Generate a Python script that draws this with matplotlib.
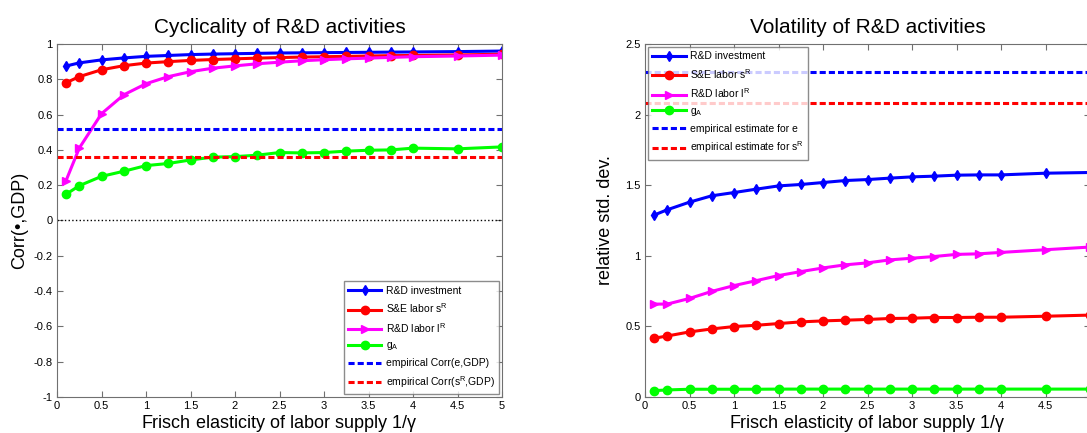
# 研发活动的周期性与波动性
import matplotlib
matplotlib.use("Agg")
import matplotlib.pyplot as plt
from matplotlib.ticker import FuncFormatter

plt.rcParams["font.family"] = ["Liberation Sans", "DejaVu Sans"]
plt.rcParams["mathtext.default"] = "regular"
plt.rcParams["axes.unicode_minus"] = False

# Frisch 弹性取值
frisch = [0.1, 0.25, 0.5, 0.75, 1, 1.25, 1.5, 1.75, 2, 2.25, 2.5, 2.75,
          3, 3.25, 3.5, 3.75, 4, 4.5, 5]

# 左图：与GDP的相关系数
corr_invest = [0.875, 0.893, 0.91, 0.921, 0.93, 0.935, 0.94, 0.943, 0.945, 0.947,
               0.949, 0.95, 0.951, 0.952, 0.953, 0.954, 0.955, 0.957, 0.96]
corr_se = [0.78, 0.815, 0.854, 0.877, 0.892, 0.9, 0.907, 0.912, 0.916, 0.92,
           0.923, 0.926, 0.928, 0.93, 0.932, 0.934, 0.935, 0.938, 0.942]
corr_rd = [0.224, 0.41, 0.605, 0.712, 0.775, 0.815, 0.843, 0.863, 0.876, 0.888,
           0.897, 0.905, 0.911, 0.916, 0.92, 0.924, 0.928, 0.932, 0.937]
corr_ga = [0.148, 0.197, 0.25, 0.279, 0.311, 0.323, 0.343, 0.359, 0.362, 0.37,
           0.385, 0.383, 0.385, 0.393, 0.398, 0.40, 0.41, 0.406, 0.417]
emp_corr_e = 0.52
emp_corr_s = 0.36

# 右图：相对标准差
vol_invest = [1.288, 1.326, 1.38, 1.425, 1.448, 1.472, 1.495, 1.505, 1.519, 1.533,
              1.54, 1.55, 1.559, 1.564, 1.571, 1.573, 1.573, 1.585, 1.59]
vol_se = [0.416, 0.432, 0.461, 0.482, 0.499, 0.508, 0.52, 0.532, 0.539, 0.544,
          0.549, 0.556, 0.558, 0.563, 0.563, 0.565, 0.565, 0.572, 0.58]
vol_rd = [0.658, 0.658, 0.698, 0.748, 0.789, 0.824, 0.86, 0.888, 0.914, 0.936,
          0.95, 0.971, 0.983, 0.995, 1.01, 1.014, 1.024, 1.043, 1.062]
vol_ga = [0.045, 0.05, 0.055, 0.055, 0.055, 0.055, 0.056, 0.056, 0.056, 0.056,
          0.056, 0.056, 0.056, 0.056, 0.056, 0.056, 0.056, 0.056, 0.056]
emp_vol_e = 2.3
emp_vol_s = 2.085

left_labels = ["R&D investment", "S&E labor s$^{R}$", "R&D labor l$^{R}$", "g$_{A}$",
               "empirical Corr(e,GDP)", "empirical Corr(s$^{R}$,GDP)"]
right_labels = ["R&D investment", "S&E labor s$^{R}$", "R&D labor l$^{R}$", "g$_{A}$",
                "empirical estimate for e", "empirical estimate for s$^{R}$"]

xlabel = "Frisch elasticity of labor supply 1/$\\gamma$"

fig = plt.figure(figsize=(10.87, 4.33), dpi=100)
ax1 = fig.add_axes([57 / 1087, 36 / 433, 445 / 1087, 353 / 433])
ax2 = fig.add_axes([645 / 1087, 36 / 433, 445 / 1087, 353 / 433])

DASH = (0, (2, 1))


def draw_series(ax, invest, se, rd, ga):
    ax.plot(frisch, invest, color="#0000ff", lw=2.2, marker="d", ms=5)
    ax.plot(frisch, se, color="#ff0000", lw=2.2, marker="o", ms=6)
    ax.plot(frisch, rd, color="#ff00ff", lw=2.2, marker=">", ms=6)
    ax.plot(frisch, ga, color="#00ff00", lw=2.2, marker="o", ms=6)


def style_axes(ax):
    for s in ax.spines.values():
        s.set_color("#707070")
    ax.tick_params(direction="in", top=True, right=True, length=4,
                   color="#707070", labelsize=8, pad=3)
    ax.xaxis.set_major_formatter(FuncFormatter(lambda v, p: "%g" % v))
    ax.yaxis.set_major_formatter(FuncFormatter(lambda v, p: "%g" % v))
    ax.set_xlabel(xlabel, fontsize=13, labelpad=1)


def style_legend(leg):
    leg.get_frame().set_edgecolor("#707070")
    leg.get_frame().set_linewidth(1)


# 左图
draw_series(ax1, corr_invest, corr_se, corr_rd, corr_ga)
ax1.axhline(emp_corr_e, color="#0000ff", lw=2.2, ls=DASH)
ax1.axhline(emp_corr_s, color="#ff0000", lw=2.2, ls=DASH)
ax1.axhline(0, color="black", lw=1, ls=":")
ax1.set_xlim(0, 5)
ax1.set_ylim(-1, 1)
ax1.set_xticks([0, 0.5, 1, 1.5, 2, 2.5, 3, 3.5, 4, 4.5, 5])
ax1.set_yticks([-1, -0.8, -0.6, -0.4, -0.2, 0, 0.2, 0.4, 0.6, 0.8, 1])
style_axes(ax1)
ax1.set_ylabel("Corr(\u2022,GDP)", fontsize=13, labelpad=4)
ax1.set_title("Cyclicality of R&D activities", fontsize=15, pad=8)
leg1 = ax1.legend(left_labels, loc="lower right", fontsize=7.5, fancybox=False,
                  borderaxespad=0.3, handlelength=3.2, labelspacing=0.55,
                  handletextpad=0.4, borderpad=0.4)
style_legend(leg1)

# 右图（右边界超出画面，5 的刻度看不到）
draw_series(ax2, vol_invest, vol_se, vol_rd, vol_ga)
ax2.axhline(emp_vol_e, color="#0000ff", lw=2.2, ls=DASH)
ax2.axhline(emp_vol_s, color="#ff0000", lw=2.2, ls=DASH)
ax2.set_xlim(0, 5)
ax2.set_ylim(0, 2.5)
ax2.set_xticks([0, 0.5, 1, 1.5, 2, 2.5, 3, 3.5, 4, 4.5])
ax2.set_yticks([0, 0.5, 1, 1.5, 2, 2.5])
style_axes(ax2)
ax2.set_ylabel("relative std. dev.", fontsize=13, labelpad=8)
ax2.set_title("Volatility of R&D activities", fontsize=15, pad=8)
leg2 = ax2.legend(right_labels, loc="upper left", fontsize=7.5, fancybox=False,
                  borderaxespad=0.3, handlelength=3.2, labelspacing=0.55,
                  handletextpad=0.4, borderpad=0.4)
style_legend(leg2)

fig.savefig("out.png", dpi=100)
